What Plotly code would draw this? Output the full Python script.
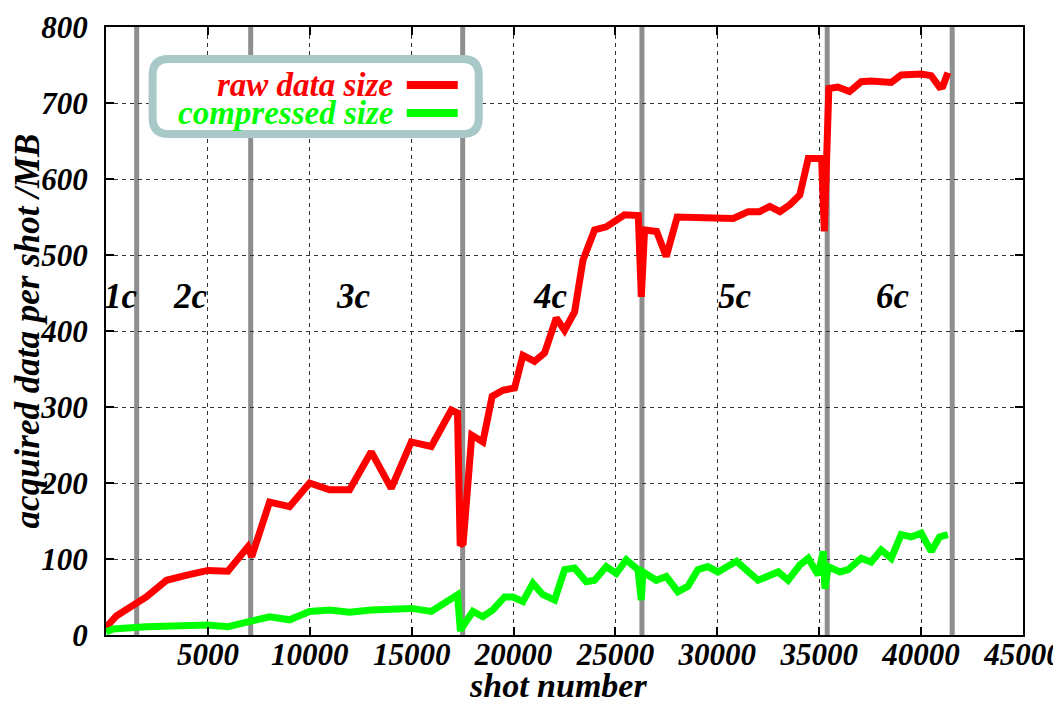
import plotly.graph_objects as go

# ---- data ----
raw_shot = [0, 505, 1975, 2973, 4019, 5000, 5981, 6963, 7150, 8027, 9009, 9990, 10972,
            11953, 13016, 13998, 14980, 15962, 16944, 17250, 17380, 17527, 17950, 18494,
            18950, 19476, 20049, 20460, 21030, 21521, 22094, 22503, 22994, 23404, 23975,
            24549, 25446, 26020, 26120, 26270, 26430, 27021, 27492, 28030, 30043, 30780,
            31517, 32070, 32573, 33071, 33555, 34046, 34461, 35114, 35250, 35472, 35913,
            36486, 37060, 37550, 38532, 39023, 40004, 40495, 40903, 41067, 41312]
raw_mb = [10, 25, 50, 72, 79, 85, 84, 116, 103, 175, 169, 200, 191,
          191, 241, 193, 254, 248, 296, 292, 118, 121, 263, 254,
          314, 322, 325, 368, 360, 371, 417, 401, 425, 493, 533,
          537, 553, 553, 552, 445, 533, 531, 498, 550, 550, 548,
          557, 557, 564, 557, 566, 579, 627, 627, 531, 719, 721,
          715, 728, 729, 727, 737, 738, 736, 721, 722, 740]

comp_shot = [0, 340, 1975, 2973, 4019, 5000, 5981, 6963, 8027, 9009, 9990, 10972, 11953,
             13016, 13998, 14980, 15962, 16944, 17250, 17380, 17450, 18004, 18494, 18985,
             19559, 19967, 20458, 20949, 21440, 22014, 22504, 22994, 23570, 23975, 24549,
             25040, 25530, 26105, 26270, 26350, 27004, 27494, 28063, 28554, 29044, 29535,
             30025, 30942, 32002, 32984, 33474, 34046, 34461, 34949, 35196, 35280, 35443,
             36016, 36423, 37060, 37550, 38041, 38532, 39023, 39514, 40004, 40495, 40903,
             41311]
comp_mb = [4, 8, 11, 12, 13, 13, 11, 18, 24, 20, 31, 33, 30,
           33, 35, 35, 31, 46, 53, 9, 9, 31, 24, 33,
           50, 50, 44, 68, 53, 46, 86, 88, 70, 72, 90,
           81, 99, 86, 46, 83, 72, 77, 57, 64, 86, 90,
           83, 97, 72, 83, 72, 92, 101, 79, 110, 61, 90,
           83, 86, 101, 96, 112, 101, 132, 129, 134, 110, 129,
           132]

campaign_bounds = [1506, 7100, 17503, 26300, 35393, 41526]
campaign_names = ["1c", "2c", "3c", "4c", "5c", "6c"]
campaign_label_x = [741, 4151, 12149, 21791, 30868, 38597]
campaign_label_y = 446

x_ticks = [5000, 10000, 15000, 20000, 25000, 30000, 35000, 40000, 45000]
y_ticks = [0, 100, 200, 300, 400, 500, 600, 700, 800]

series_names = ["raw data size", "compressed size"]
series_colors = ["#ff0000", "#00ff00"]
x_title = "shot number"
y_title = "acquired data per shot /MB"

FONT = "Liberation Serif"


def bi(s):
    return "<b><i>" + s + "</i></b>"


fig = go.Figure()
fig.add_trace(go.Scatter(x=raw_shot, y=raw_mb, mode="lines", name=series_names[0],
                         line=dict(color=series_colors[0], width=7), showlegend=False))
fig.add_trace(go.Scatter(x=comp_shot, y=comp_mb, mode="lines", name=series_names[1],
                         line=dict(color=series_colors[1], width=7), showlegend=False))

shapes = []
for b in campaign_bounds:
    shapes.append(dict(type="line", xref="x", yref="paper", x0=b, x1=b, y0=0, y1=1,
                       line=dict(color="#8e8e8e", width=5), layer="between"))

# custom legend box (rounded rectangle, paper coords)
x0, x1, yb, yt = 0.0508, 0.4065, 0.824, 0.9474
rx, ry = 0.0175, 0.0265
path = (f"M {x0+rx},{yt} L {x1-rx},{yt} Q {x1},{yt} {x1},{yt-ry} "
        f"L {x1},{yb+ry} Q {x1},{yb} {x1-rx},{yb} "
        f"L {x0+rx},{yb} Q {x0},{yb} {x0},{yb+ry} "
        f"L {x0},{yt-ry} Q {x0},{yt} {x0+rx},{yt} Z")
shapes.append(dict(type="path", xref="paper", yref="paper", path=path,
                   line=dict(color="#a9c9c9", width=8), fillcolor="white", layer="above"))
leg_y = [0.9046, 0.8586]
for yy, c in zip(leg_y, series_colors):
    shapes.append(dict(type="line", xref="paper", yref="paper", x0=0.328, x1=0.3836,
                       y0=yy, y1=yy, line=dict(color=c, width=8), layer="above"))

annotations = []
for yy, name, c in zip(leg_y, series_names, series_colors):
    annotations.append(dict(xref="paper", yref="paper", x=0.3147, y=yy, text=bi(name),
                            showarrow=False, xanchor="right", yanchor="middle",
                            font=dict(family=FONT, size=33, color=c)))
for nm, lx in zip(campaign_names, campaign_label_x):
    annotations.append(dict(xref="x", yref="y", x=lx, y=campaign_label_y, text=bi(nm),
                            showarrow=False, xanchor="center", yanchor="middle",
                            font=dict(family=FONT, size=35, color="black")))
# x axis title (placed as annotation so it can sit at the very bottom)
annotations.append(dict(xref="paper", yref="paper", x=0.493, y=-0.1036, yshift=-8,
                        text=bi(x_title), showarrow=False, xanchor="center", yanchor="bottom",
                        font=dict(family=FONT, size=34, color="black")))

tickfont = dict(family=FONT, size=31, color="black")
titlefont = dict(family=FONT, size=35, color="black")

fig.update_layout(
    width=1053, height=690,
    margin=dict(l=98, r=38, t=19, b=63, autoexpand=False),
    plot_bgcolor="white", paper_bgcolor="white",
    font=dict(family=FONT),
    shapes=shapes, annotations=annotations,
    xaxis=dict(range=[0, 45000], tickvals=x_ticks, ticktext=[bi(str(v)) for v in x_ticks],
               showgrid=True, gridcolor="#333333", griddash="4px,4px", gridwidth=1,
               showline=True, linecolor="black", linewidth=2, mirror="ticks",
               ticks="inside", ticklen=8, tickwidth=2, tickcolor="black",
               tickfont=tickfont, ticklabelstandoff=-9, ticklabeloverflow="allow",
               zeroline=False, automargin=False),
    yaxis=dict(range=[0, 800], tickvals=y_ticks, ticktext=[bi(str(v)) for v in y_ticks],
               showgrid=True, gridcolor="#333333", griddash="4px,4px", gridwidth=1,
               showline=True, linecolor="black", linewidth=2, mirror="ticks",
               ticks="inside", ticklen=8, tickwidth=2, tickcolor="black",
               tickfont=tickfont, ticklabelstandoff=10, ticklabeloverflow="allow",
               zeroline=False, automargin=False,
               title=dict(text=bi(y_title), standoff=2, font=titlefont)),
)

fig.write_html("out.html")
